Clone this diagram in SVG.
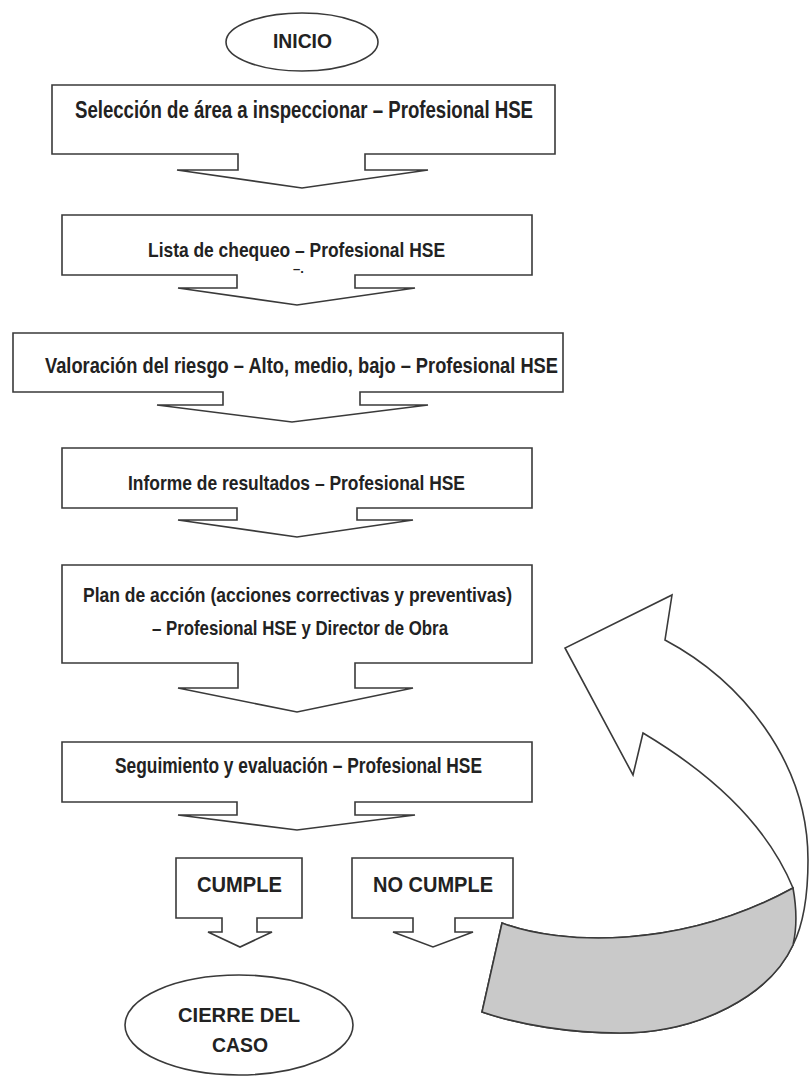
<svg xmlns="http://www.w3.org/2000/svg" width="809" height="1079" viewBox="0 0 809 1079">
<style>
.shape{fill:#ffffff;stroke:#3a3a3a;stroke-width:1.6;stroke-linejoin:miter}
.t{font-family:"Liberation Sans",Arial,sans-serif;font-weight:bold;fill:#222222;text-anchor:start}
.gray{fill:#c9c9c9;stroke:#3a3a3a;stroke-width:1.6}
</style>
<rect width="809" height="1079" fill="#ffffff"/>
<g id="inicio">
<ellipse class="shape" cx="302" cy="42" rx="76" ry="29"/>
<text class="t" x="273" y="48" font-size="21" textLength="59" lengthAdjust="spacingAndGlyphs">INICIO</text>
</g>
<g id="seleccion">
<path class="shape" d="M52,85 H555 V154 H365 V170 H428 L302,188 L177,170 H238 V154 H52 Z"/>
<text class="t" x="75" y="118" font-size="24" textLength="458" lengthAdjust="spacingAndGlyphs">Selección de área a inspeccionar – Profesional HSE</text>
</g>
<g id="lista">
<path class="shape" d="M62,215 H532 V275 H355 V288 H415 L297,305 L178,288 H237 V275 H62 Z"/>
<text class="t" x="148" y="257" font-size="21" textLength="297" lengthAdjust="spacingAndGlyphs">Lista de chequeo – Profesional HSE</text>
<text class="t" x="293" y="273" font-size="13" fill="#444444">–.</text>
</g>
<g id="valoracion">
<path class="shape" d="M13,333 H563 V392 H360 V405 H428 L292,422 L157,405 H223 V392 H13 Z"/>
<text class="t" x="45" y="373" font-size="22" textLength="513" lengthAdjust="spacingAndGlyphs">Valoración del riesgo – Alto, medio, bajo – Profesional HSE</text>
</g>
<g id="informe">
<path class="shape" d="M62,448 H532 V508 H357 V520 H413 L297,537 L178,520 H237 V508 H62 Z"/>
<text class="t" x="128" y="490" font-size="21" textLength="337" lengthAdjust="spacingAndGlyphs">Informe de resultados – Profesional HSE</text>
</g>
<g id="plan">
<path class="shape" d="M62,565 H532 V663 H355 V688 H413 L297,712 L178,688 H238 V663 H62 Z"/>
<text class="t" x="83" y="602" font-size="21" textLength="429" lengthAdjust="spacingAndGlyphs">Plan de acción (acciones correctivas y preventivas)</text>
<text class="t" x="152" y="635" font-size="21" textLength="296" lengthAdjust="spacingAndGlyphs">– Profesional HSE y Director de Obra</text>
</g>
<g id="seguimiento">
<path class="shape" d="M62,742 H532 V802 H355 V815 H415 L297,830 L178,815 H237 V802 H62 Z"/>
<text class="t" x="115" y="773" font-size="22" textLength="367" lengthAdjust="spacingAndGlyphs">Seguimiento y evaluación – Profesional HSE</text>
</g>
<g id="cumple">
<path class="shape" d="M176,858 H302 V918 H257 V932 H272 L240,947 L208,932 H222 V918 H176 Z"/>
<text class="t" x="197" y="892" font-size="22" textLength="85" lengthAdjust="spacingAndGlyphs">CUMPLE</text>
</g>
<g id="nocumple">
<path class="shape" d="M352,858 H513 V918 H455 V932 H473 L433,947 L393,932 H413 V918 H352 Z"/>
<text class="t" x="373" y="892" font-size="22" textLength="120" lengthAdjust="spacingAndGlyphs">NO CUMPLE</text>
</g>
<g id="cierre">
<ellipse class="shape" cx="239" cy="1025" rx="114" ry="50"/>
<text class="t" x="178" y="1022" font-size="21" textLength="122" lengthAdjust="spacingAndGlyphs">CIERRE DEL</text>
<text class="t" x="212" y="1052" font-size="21" textLength="56" lengthAdjust="spacingAndGlyphs">CASO</text>
</g>
<g id="connectors">
<path class="shape" d="M672,595 L665,640 C740,680 808,760 808,860 C808,900 803,925 793,945 C770,995 700,1033 620,1033 C570,1033 520,1025 482,1012 L502,923 C560,945 680,950 793,888 C765,820 705,770 643,733 L633,775 L565,648 Z"/>
<path class="gray" d="M502,923 C560,945 680,950 793,888 C797,910 797,928 793,945 C770,995 700,1033 620,1033 C570,1033 520,1025 482,1012 Z"/>
</g>
</svg>
